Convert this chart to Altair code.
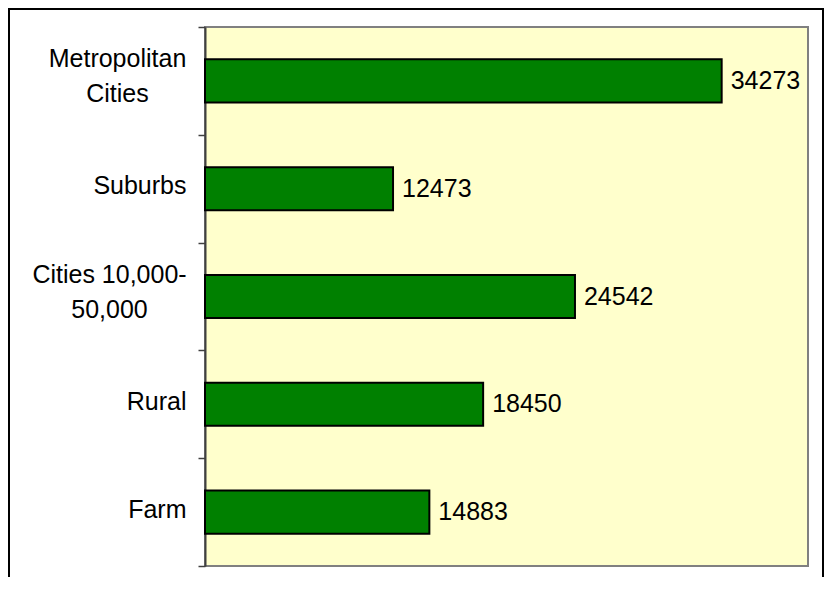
import json
import altair as alt
import pandas as pd

categories = ["Metropolitan Cities", "Suburbs", "Cities 10,000-50,000", "Rural", "Farm"]
values = [34273, 12473, 24542, 18450, 14883]
tick_lines = [["Metropolitan", "Cities"], ["Suburbs"], ["Cities 10,000-", "50,000"], ["Rural"], ["Farm"]]

df = pd.DataFrame({"category": categories, "value": values})

FONT = "Liberation Sans"
label_expr = f"{json.dumps(tick_lines)}[indexof({json.dumps(categories)}, datum.value)]"
multi_test = "datum.value == 'Metropolitan Cities' || datum.value == 'Cities 10,000-50,000'"

y_axis = alt.Axis(
    title=None,
    labelExpr=label_expr,
    labelFont=FONT,
    labelFontSize=25,
    labelColor="black",
    labelLineHeight=35,
    labelAlign={"condition": {"test": multi_test, "value": "center"}, "value": "right"},
    labelPadding={
        "condition": [
            {"test": "datum.value == 'Metropolitan Cities'", "value": 81},
            {"test": "datum.value == 'Cities 10,000-50,000'", "value": 89},
        ],
        "value": 12,
    },
    labelOffset={"condition": {"test": multi_test, "value": -22}, "value": -3},
    tickBand="extent",
    tickSize=7,
    tickWidth=1.5,
    tickColor="#404040",
    domainColor="#404040",
    domainWidth=2,
    grid=False,
    labelLimit=300,
)

y_enc = alt.Y("category:N", sort=categories,
              scale=alt.Scale(paddingInner=0, paddingOuter=0), axis=y_axis)
x_enc = alt.X("value:Q", scale=alt.Scale(domain=[0, 40000], nice=False), axis=None)

base = alt.Chart(df)

bars = base.mark_bar(color="#008000", stroke="black", strokeWidth=2,
                     height={"band": 0.4}).encode(x=x_enc, y=y_enc)

labels = base.mark_text(align="left", baseline="middle", dx=9, fontSize=25,
                        font=FONT, color="black").encode(
    x=x_enc, y=y_enc, text=alt.Text("value:Q", format="d"))

frame = alt.Chart(alt.Data(values=[{}])).mark_rect(
    fill="transparent", stroke="black", strokeWidth=2).encode(
    x=alt.value(-196), x2=alt.value(618), y=alt.value(-18), y2=alt.value(700))

chart = alt.layer(frame, bars, labels).properties(
    width=603, height=539, autosize="none",
    padding={"left": 197, "top": 19, "right": 16, "bottom": 11},
).configure(
    background="white",
    view=alt.ViewConfig(fill="#FFFFCC", stroke="#808080", strokeWidth=2),
)

chart.save("out.html", embed_options={"renderer": "svg", "actions": False})
